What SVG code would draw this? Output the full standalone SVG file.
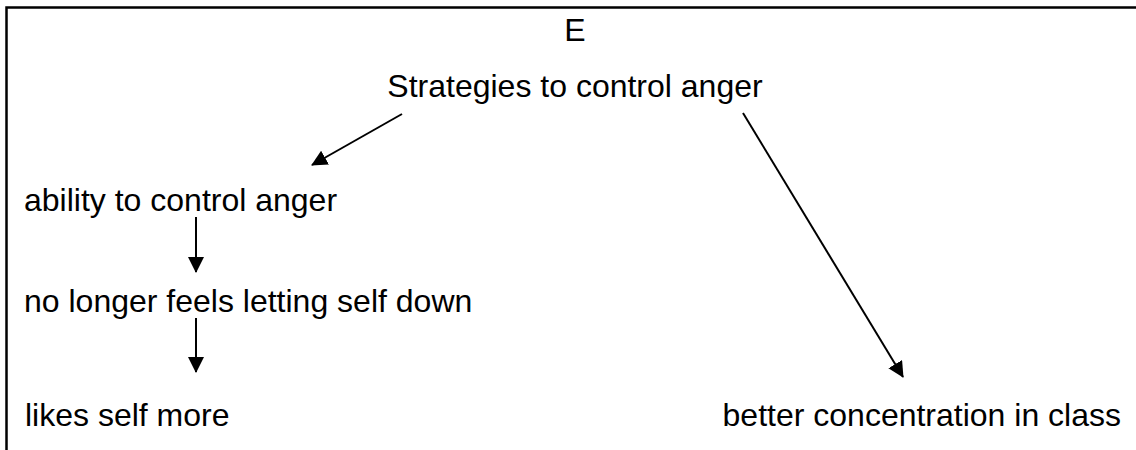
<svg xmlns="http://www.w3.org/2000/svg" width="1136" height="450" viewBox="0 0 1136 450">
<style>
  text { font-family: "Liberation Sans", Arial, sans-serif; font-size: 32px; fill: #000; }
  .conn { stroke: #000; stroke-width: 2; fill: none; marker-end: url(#ah); }
  .frame { stroke: #000; stroke-width: 2.5; fill: none; }
</style>
<defs>
  <marker id="ah" markerUnits="userSpaceOnUse" markerWidth="17" markerHeight="17" refX="15" refY="8" orient="auto">
    <path d="M0,0 L16,8 L0,16 Z" fill="#000"/>
  </marker>
</defs>
<rect width="1136" height="450" fill="#fff"/>
<path class="frame" d="M6.5,450 L6.5,7.5 L1136,7.5"/>
<g id="title"><text x="575" y="41" text-anchor="middle">E</text></g>
<g id="n-strategies"><text x="575" y="97" text-anchor="middle">Strategies to control anger</text></g>
<g id="n-ability"><text x="24" y="211">ability to control anger</text></g>
<g id="n-nolonger"><text x="24" y="312">no longer feels letting self down</text></g>
<g id="n-likes"><text x="25" y="426">likes self more</text></g>
<g id="n-better"><text x="1121" y="426" text-anchor="end">better concentration in class</text></g>
<g id="connectors">
  <line class="conn" x1="402" y1="114" x2="312" y2="165"/>
  <line class="conn" x1="743" y1="113" x2="903" y2="377"/>
  <line class="conn" x1="196" y1="217" x2="196" y2="272"/>
  <line class="conn" x1="196" y1="318" x2="196" y2="372"/>
</g>
</svg>
